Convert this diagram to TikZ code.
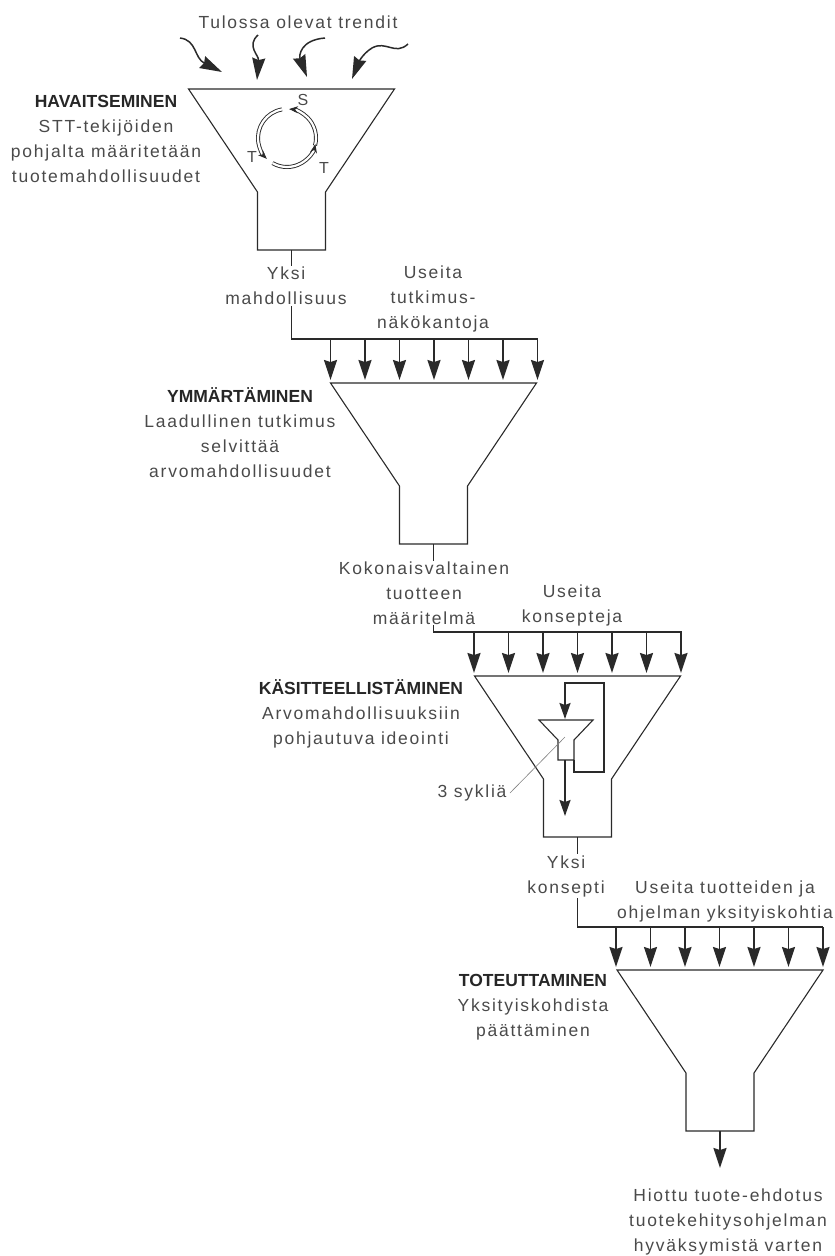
\documentclass[tikz,border=0pt]{standalone}
\usepackage{fontspec}
\setmainfont{Liberation Sans}[LetterSpace=10]
\newfontfamily\ttlfont{Liberation Sans}
\usetikzlibrary{arrows.meta}
\definecolor{ink}{HTML}{2A2A2A}
\definecolor{txt}{HTML}{4A4A4A}
\tikzset{
  fl/.style={draw=ink, line width=1.1pt, line join=miter},
  bar/.style={draw=ink, line width=1.8pt},
  arr/.style={bar, -{Stealth[length=20pt,width=13pt,inset=2pt]}},
  smallarr/.style={bar, -{Stealth[length=16pt,width=11pt,inset=2pt]}},
  trend/.style={draw=ink, line width=1.5pt, -{Stealth[length=22pt,width=13pt,inset=2pt]}},
  lbl/.style={align=center, inner sep=1pt, fill=white},
  cyc/.style={draw=ink, line width=0.9pt, double=white, double distance=2.2pt},
  cyctip/.style={-{Stealth[length=9pt,width=7pt]}},
  funnel/.pic={
    \draw[fl] (-103,0) coordinate (-tl) -- (103,0) coordinate (-tr)
      -- (34,103) -- (34,161) -- (-34,161) -- (-34,103) -- cycle;
    \coordinate (-out) at (0,161);
  }
}
\newcommand{\feedrow}[4]{%
  \foreach \i in {0,...,6}{%
    \coordinate (#1s\i) at (#2+\i*34.5,#3);
    \coordinate (#1e\i) at (#2+\i*34.5,#4);
    \draw[arr] (#1s\i) -- (#1e\i);
  }}
\begin{document}
\begin{tikzpicture}[x=1pt,y=-1pt,font=\fontsize{17.5}{25}\selectfont,text=txt]
\path[use as bounding box] (0,0) rectangle (835,1256);

% funnels
\pic (f1) at (291.5,89) {funnel};
\pic (f2) at (433.5,383) {funnel};
\pic (f3) at (577.5,676) {funnel};
\pic (f4) at (720,970) {funnel};

% incoming trends
\coordinate (a1s) at (180,38);  \coordinate (a1e) at (222,72);
\coordinate (a2s) at (258,35);  \coordinate (a2e) at (257,80);
\coordinate (a3s) at (325,38);  \coordinate (a3e) at (307,77);
\coordinate (a4s) at (408,44);  \coordinate (a4m) at (372,48); \coordinate (a4e) at (352,79);
\draw[trend] (a1s) .. controls (197,40) and (194,58) .. (a1e);
\draw[trend] (a2s) .. controls (246,46) and (259,55) .. (a2e);
\draw[trend] (a3s) .. controls (300,40) and (299,56) .. (a3e);
\draw[trend] (a4s) .. controls (395,56) and (386,40) .. (a4m) .. controls (362,54) and (358,64) .. (a4e);

% S-T-T cycle
\begin{scope}[shift={(287,138)}, yscale=-1]
  \draw[cyc, cyctip] (-15:29) arc (-15:86:29);
  \draw[cyc, cyctip] (100:29) arc (100:226:29);
  \draw[cyc, cyctip] (240:29) arc (240:348:29);
\end{scope}
\node[font=\fontsize{16}{18}\selectfont] (cS) at (303,100) {S};
\node[font=\fontsize{16}{18}\selectfont] (cT1) at (252,157) {T};
\node[font=\fontsize{16}{18}\selectfont] (cT2) at (324,168) {T};

% outlets and feeder bars
\coordinate (j1) at (291.5,339); \coordinate (k1) at (538,339);
\draw[bar] (f1-out) -- (j1) -- (k1);
\feedrow{r1}{330.5}{339}{380}
\coordinate (j2) at (433.5,632); \coordinate (k2) at (682,632);
\draw[bar] (f2-out) -- (j2) -- (k2);
\feedrow{r2}{474}{632}{673}
\coordinate (j3) at (577.5,927); \coordinate (k3) at (823,927);
\draw[bar] (f3-out) -- (j3) -- (k3);
\feedrow{r3}{616}{927}{967}
\coordinate (fin) at (720,1168);
\draw[arr] (f4-out) -- (fin);

% inner mini funnel with cycle loop
\draw[fl] (539,720) -- (593,720) -- (574,740) -- (574,760) -- (558,760) -- (558,740) -- cycle;
\coordinate (m-r) at (574,760); \coordinate (m-c) at (565,760);
\coordinate (m-in) at (565,719); \coordinate (m-out) at (565,816);
\draw[smallarr] (m-r) -- (574,772) -- (604,772) -- (604,683) -- (565,683) -- (m-in);
\draw[smallarr] (m-c) -- (m-out);

% labels
\node (trd) at (298,22) {Tulossa olevat trendit};
\node[align=center] (L1) at (106,139) {{\ttlfont\bfseries\color{black!85}HAVAITSEMINEN}\\STT-tekijöiden\\pohjalta määritetään\\tuotemahdollisuudet};
\node[align=center] (L2) at (240,433) {{\ttlfont\bfseries\color{black!85}YMMÄRTÄMINEN}\\Laadullinen tutkimus\\selvittää\\arvomahdollisuudet};
\node[align=center] (L3) at (361,714) {{\ttlfont\bfseries\color{black!85}KÄSITTEELLISTÄMINEN}\\Arvomahdollisuuksiin\\pohjautuva ideointi};
\node[align=center] (L4) at (533,1007) {{\ttlfont\bfseries\color{black!85}TOTEUTTAMINEN}\\Yksityiskohdista\\päättäminen};

\node[lbl] (o1) at (286,286) {Yksi\\mahdollisuus};
\node[lbl] (u1) at (433,299) {Useita\\tutkimus-\\näkökantoja};
\node[lbl] (o2) at (424,593) {Kokonaisvaltainen\\tuotteen\\määritelmä};
\node[lbl] (u2) at (572,605) {Useita\\konsepteja};
\node[lbl] (o3) at (566,876) {Yksi\\konsepti};
\node[lbl] (u3) at (725,901) {Useita tuotteiden ja\\ohjelman yksityiskohtia};
\node[align=center] (out) at (728,1222) {Hiottu tuote-ehdotus\\tuotekehitysohjelman\\hyväksymistä varten};

\node (sy) at (472,793) {3 sykliä};
\coordinate (syp) at (565,737);
\draw[gray, line width=0.6pt] (sy.east) -- (syp);
\end{tikzpicture}
\end{document}
